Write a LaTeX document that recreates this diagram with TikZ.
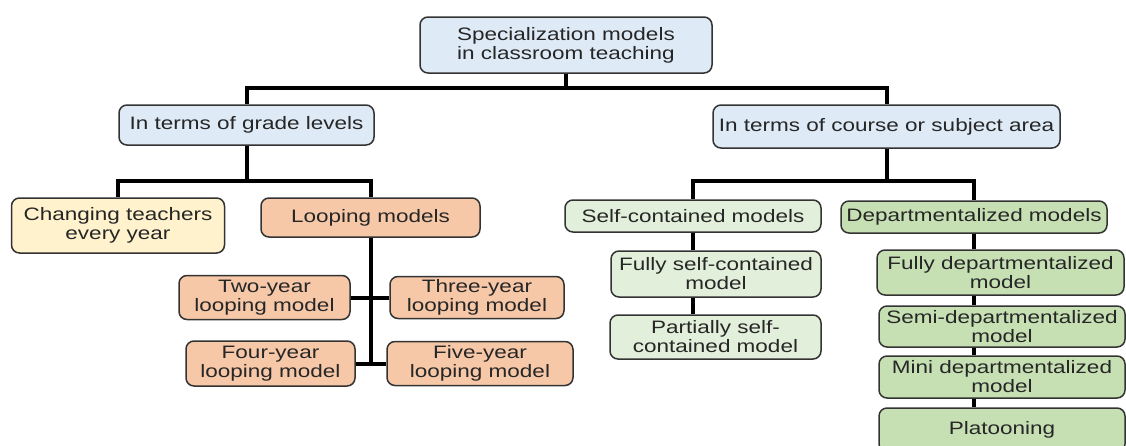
\documentclass[tikz,border=0pt]{standalone}
\usepackage{fontspec}
\setmainfont{Liberation Sans}[FakeStretch=1.25]
\definecolor{cblue}{HTML}{DEEAF6}
\definecolor{cyellow}{HTML}{FFF2CC}
\definecolor{cpeach}{HTML}{F6C8A8}
\definecolor{clgreen}{HTML}{E2EFDA}
\definecolor{cgreen}{HTML}{C6E0B4}
\definecolor{cborder}{HTML}{333333}
\tikzset{
  box/.style={draw=cborder, line width=1.5pt, rounded corners=8pt, inner sep=0pt,
    align=center, font=\fontsize{18}{19}\selectfont, text=black!85},
  bluebox/.style={box, fill=cblue},
  yellowbox/.style={box, fill=cyellow},
  peachbox/.style={box, fill=cpeach},
  lgreenbox/.style={box, fill=clgreen},
  greenbox/.style={box, fill=cgreen},
  conn/.style={line width=4pt, black},
}
\begin{document}
\begin{tikzpicture}[x=1pt, y=-1pt]
\clip (0,0) rectangle (1126,445);
\fill[white] (0,0) rectangle (1126,445);
% nodes
\node[bluebox, minimum width=292pt, minimum height=56pt] (root) at (566,45) {Specialization models\\in classroom teaching};
\node[bluebox, minimum width=255pt, minimum height=40pt] (grade) at (246.5,125) {In terms of grade levels};
\node[bluebox, minimum width=347pt, minimum height=43pt] (course) at (886.5,126.5) {In terms of course or subject area};
\node[yellowbox, minimum width=213pt, minimum height=55pt] (changing) at (118,225.5) {Changing teachers\\every year};
\node[peachbox, minimum width=219pt, minimum height=39pt] (looping) at (370.5,217.5) {Looping models};
\node[peachbox, minimum width=171pt, minimum height=44pt] (two) at (264.5,297.5) {Two-year\\looping model};
\node[peachbox, minimum width=174pt, minimum height=42pt] (three) at (477,297.5) {Three-year\\looping model};
\node[peachbox, minimum width=169pt, minimum height=45pt] (four) at (270.5,363.5) {Four-year\\looping model};
\node[peachbox, minimum width=186pt, minimum height=44pt] (five) at (480,363.5) {Five-year\\looping model};
\node[lgreenbox, minimum width=256pt, minimum height=32pt] (self) at (693,216) {Self-contained models};
\node[greenbox, minimum width=266pt, minimum height=32pt] (dept) at (974,217) {Departmentalized models};
\node[lgreenbox, minimum width=210pt, minimum height=46pt] (fself) at (716,274) {Fully self-contained\\model};
\node[lgreenbox, minimum width=211pt, minimum height=44pt] (pself) at (715.5,337) {Partially self-\\contained model};
\node[greenbox, minimum width=247pt, minimum height=45pt] (fdept) at (1000.5,272.5) {Fully departmentalized\\model};
\node[greenbox, minimum width=246pt, minimum height=41pt] (sdept) at (1002,326.5) {Semi-departmentalized\\model};
\node[greenbox, minimum width=246pt, minimum height=42pt] (mdept) at (1002,377) {Mini departmentalized\\model};
\node[greenbox, minimum width=246pt, minimum height=44pt] (plat) at (1002,430) {Platooning};
% junction coordinates
\coordinate (b1) at (566,88);
\coordinate (b2) at (246.5,181);
\coordinate (b3) at (886.5,181);
\coordinate (l2) at (370.5,363.5);
% connectors
\draw[conn] (root.south) -- (b1);
\draw[conn] (grade.north) |- (b1) -| (course.north);
\draw[conn] (grade.south) -- (b2);
\draw[conn] (changing.north) |- (b2) -| (looping.north);
\draw[conn] (course.south) -- (b3);
\draw[conn] (self.north) |- (b3) -| (dept.north);
\draw[conn] (looping.south) -- (l2);
\draw[conn] (two.east) -- (three.west);
\draw[conn] (four.east) -- (five.west);
\draw[conn] (self.south) -- (self.south |- fself.north);
\draw[conn] (fself.south -| self.south) -- (pself.north -| self.south);
\draw[conn] (dept.south) -- (dept.south |- fdept.north);
\draw[conn] (fdept.south -| dept.south) -- (sdept.north -| dept.south);
\draw[conn] (sdept.south -| dept.south) -- (mdept.north -| dept.south);
\draw[conn] (mdept.south -| dept.south) -- (plat.north -| dept.south);
\end{tikzpicture}
\end{document}
